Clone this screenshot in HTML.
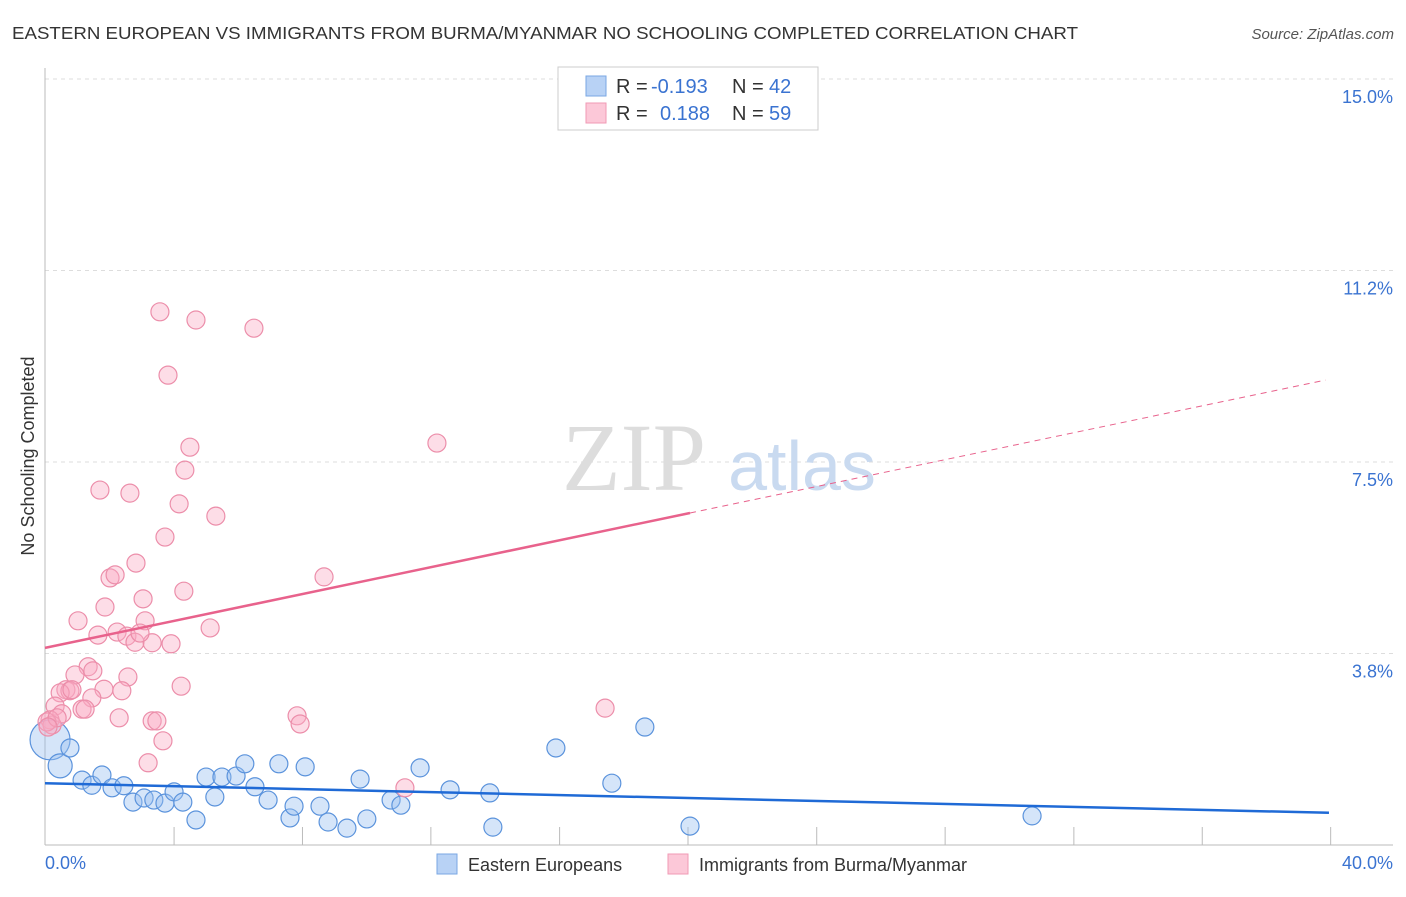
<!DOCTYPE html>
<html><head><meta charset="utf-8"><style>
body{margin:0;background:#fff;font-family:"Liberation Sans",sans-serif}
</style></head><body>
<svg width="1406" height="892" xmlns="http://www.w3.org/2000/svg" font-family="Liberation Sans, sans-serif">
<text x="12" y="39" font-size="17.5" fill="#333" textLength="1066" lengthAdjust="spacingAndGlyphs">EASTERN EUROPEAN VS IMMIGRANTS FROM BURMA/MYANMAR NO SCHOOLING COMPLETED CORRELATION CHART</text>
<text x="1394" y="39" font-size="15" fill="#555" font-style="italic" text-anchor="end">Source: ZipAtlas.com</text>
<g id="grid"></g>
<g id="axes"></g>
<text x="634" y="490" font-size="96" fill="#ddd" font-family="Liberation Serif, serif" text-anchor="middle">ZIP</text>
<text x="802" y="490" font-size="70" fill="#c9daf0" text-anchor="middle">atlas</text>
<g id="pts"></g>
<g id="trends"></g>
<text transform="translate(34,456) rotate(-90)" font-size="18" fill="#333" text-anchor="middle">No Schooling Completed</text>
<text x="45" y="869" font-size="18" fill="#3a73d1">0.0%</text>
<text x="1393" y="869" font-size="18" fill="#3a73d1" text-anchor="end">40.0%</text>
<g>
<rect x="558" y="67" width="260" height="63" fill="#fff" stroke="#ccc"/>
<rect x="586" y="76" width="20" height="20" fill="#b8d2f5" stroke="#7aa7e3"/>
<rect x="586" y="103" width="20" height="20" fill="#fcc8d8" stroke="#f09ab5"/>
<text x="616" y="93" font-size="20" fill="#333">R = <tspan x="651" fill="#3a73d1">-0.193</tspan><tspan x="732">N = </tspan><tspan x="769" fill="#3a73d1">42</tspan></text>
<text x="616" y="120" font-size="20" fill="#333">R = <tspan x="660" fill="#3a73d1">0.188</tspan><tspan x="732">N = </tspan><tspan x="769" fill="#3a73d1">59</tspan></text>
</g>
<g>
<rect x="437" y="854" width="20" height="20" fill="#b8d2f5" stroke="#7aa7e3"/>
<text x="468" y="871" font-size="18" fill="#333">Eastern Europeans</text>
<rect x="668" y="854" width="20" height="20" fill="#fcc8d8" stroke="#f09ab5"/>
<text x="699" y="871" font-size="18" fill="#333">Immigrants from Burma/Myanmar</text>
</g>
</svg>
<script>
const yTicks=[3.75,7.5,11.25,15];
const yTickLabels=["3.8%","7.5%","11.2%","15.0%"];
const xTicks=[3.83,7.64,11.45,15.27,19.08,22.9,26.71,30.53,34.34,38.15];
const blueX=[0.15,0.45,0.74,1.10,1.39,1.69,1.99,2.34,2.61,2.94,3.23,3.56,3.83,4.09,4.48,4.78,5.04,5.25,5.67,5.93,6.23,6.62,6.94,7.27,7.39,7.72,8.16,8.40,8.96,9.35,9.55,10.27,10.56,11.13,12.02,13.20,13.29,15.16,16.82,17.80,19.14,29.29];
const blueY=[2.06,1.55,1.90,1.27,1.17,1.37,1.12,1.16,0.84,0.92,0.88,0.82,1.04,0.84,0.49,1.33,0.94,1.33,1.35,1.59,1.14,0.88,1.59,0.53,0.76,1.53,0.76,0.45,0.33,1.29,0.51,0.88,0.78,1.51,1.08,1.02,0.35,1.90,1.21,2.31,0.37,0.57];
const pinkX=[3.41,4.48,6.20,3.65,11.63,4.30,4.15,1.63,2.52,3.98,5.07,3.56,2.70,1.93,2.08,8.28,4.12,2.91,1.78,0.98,2.97,4.90,1.57,2.14,2.43,2.67,3.18,3.74,1.28,1.42,0.89,2.46,0.62,0.74,0.45,1.75,2.28,4.04,1.39,0.30,1.10,1.19,16.62,0.50,2.20,7.48,3.18,3.32,7.57,0.15,0.21,3.50,3.06,10.68,0.06,0.36,0.80,0.09,2.82];
const pinkY=[10.44,10.28,10.12,9.20,7.87,7.79,7.34,6.95,6.89,6.68,6.44,6.03,5.52,5.23,5.29,5.25,4.97,4.82,4.66,4.39,4.39,4.25,4.11,4.17,4.09,3.97,3.96,3.94,3.49,3.41,3.33,3.29,3.04,3.02,2.98,3.05,3.02,3.11,2.88,2.72,2.66,2.66,2.68,2.57,2.49,2.53,2.43,2.43,2.37,2.45,2.35,2.04,1.61,1.12,2.41,2.49,3.04,2.31,4.15];
const blueTrend=[1.21,-0.0152];
const pinkTrend=[3.86,0.138];
const NS="http://www.w3.org/2000/svg";
const sx=v=>45+v*33.7, sy=v=>845-v*51.07;
function mk(t,a,p){const e=document.createElementNS(NS,t);for(const k in a)e.setAttribute(k,a[k]);document.getElementById(p).appendChild(e);return e;}
yTicks.forEach((t,i)=>{
 const l=mk('line',{x1:45,x2:1393,y1:sy(t),y2:sy(t),stroke:'#ddd','stroke-dasharray':'4,4'},'grid');
 
 
 const tx=mk('text',{x:1393,y:sy(t)+24,'font-size':18,fill:'#3a73d1','text-anchor':'end'},'axes');
 tx.textContent=yTickLabels[i];
 
 
});
const ax=mk('line',{x1:45,x2:45,y1:68,y2:845,stroke:'#bbb'},'axes');


const bx=mk('line',{x1:45,x2:1393,y1:845,y2:845,stroke:'#bbb'},'axes');


xTicks.forEach(t=>{
 const l=mk('line',{x1:sx(t),x2:sx(t),y1:827,y2:845,stroke:'#bbb'},'axes');
 
 
});
blueX.forEach((x,i)=>{
 const r=i==0?20:(i==1?12:9);
 const c=mk('circle',{cx:sx(x),cy:sy(blueY[i]),r:r,fill:'rgba(150,190,240,0.4)',stroke:'#5b93dc','stroke-width':1.2},'pts');
 
 
});
pinkX.forEach((x,i)=>{
 const c=mk('circle',{cx:sx(x),cy:sy(pinkY[i]),r:9,fill:'rgba(250,170,195,0.4)',stroke:'#ec8eaa','stroke-width':1.2},'pts');
 
 
});
const b=mk('line',{x1:sx(0),y1:sy(blueTrend[0]),x2:sx(38.1),y2:sy(blueTrend[0]+blueTrend[1]*38.1),stroke:'#1f6ad6','stroke-width':2.5},'trends');


const p1=mk('line',{x1:sx(0),y1:sy(pinkTrend[0]),x2:sx(19.14),y2:sy(pinkTrend[0]+pinkTrend[1]*19.14),stroke:'#e8628c','stroke-width':2.5},'trends');


const p2=mk('line',{x1:sx(19.14),y1:sy(pinkTrend[0]+pinkTrend[1]*19.14),x2:sx(38),y2:sy(pinkTrend[0]+pinkTrend[1]*38),stroke:'#e8628c','stroke-width':1,'stroke-dasharray':'6,5'},'trends');


</script>
</body></html>
